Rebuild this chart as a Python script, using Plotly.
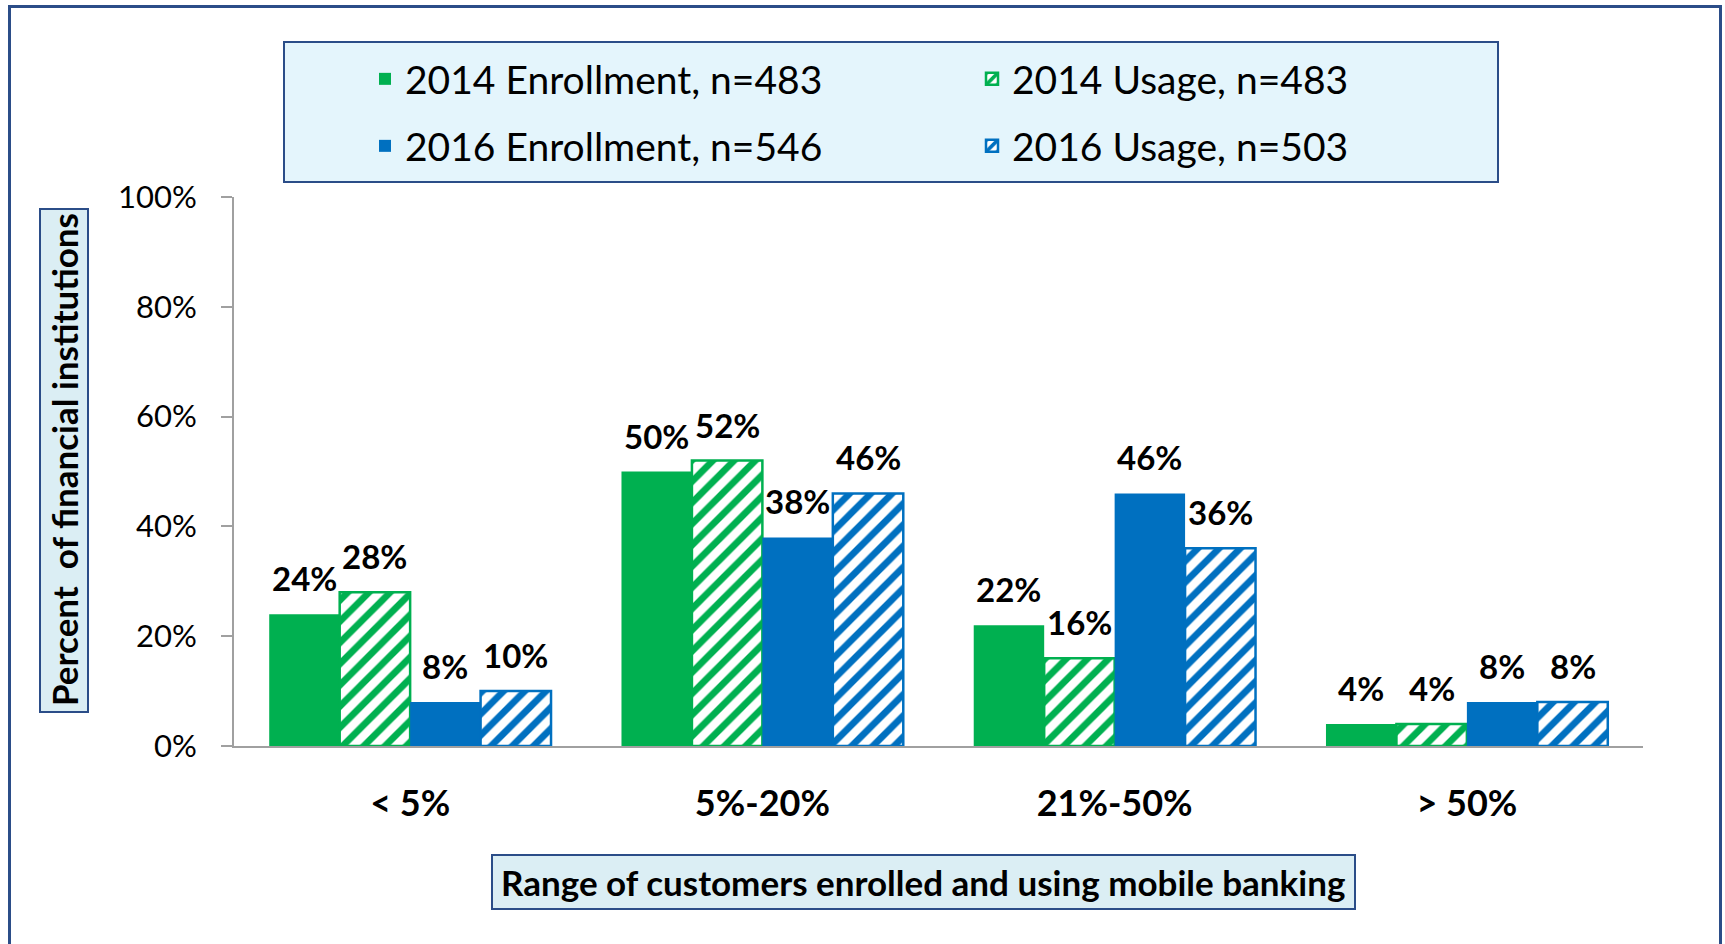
import plotly.graph_objects as go

# ---- data -------------------------------------------------------------
categories = ["< 5%", "5%-20%", "21%-50%", "> 50%"]
enroll_2014 = [24, 50, 22, 4]
usage_2014 = [28, 52, 16, 4]
enroll_2016 = [8, 38, 46, 8]
usage_2016 = [10, 46, 36, 8]
series_names = [
    "2014 Enrollment, n=483",
    "2014 Usage, n=483",
    "2016 Enrollment, n=546",
    "2016 Usage, n=503",
]
y_ticks = [0, 20, 40, 60, 80, 100]
y_tick_labels = [f"{v}%" for v in y_ticks]

# ---- styling ----------------------------------------------------------
GREEN = "#00B050"
BLUE = "#0070C0"
NAVY = "#2B4D88"
AXIS_GREY = "#A0A0A0"
FONT = "Lato"

W, H = 1725, 944
M = dict(l=234, r=82, t=197, b=198)
PW = W - M["l"] - M["r"]
PH = H - M["t"] - M["b"]
BARGAP = 0.2


def px(x):
    """pixel column -> paper x"""
    return (x - M["l"]) / PW


def py(y):
    """pixel row -> paper y"""
    return (H - M["b"] - y) / PH


series = [
    (series_names[0], enroll_2014, GREEN, False, "legend"),
    (series_names[1], usage_2014, GREEN, True, "legend"),
    (series_names[2], enroll_2016, BLUE, False, "legend2"),
    (series_names[3], usage_2016, BLUE, True, "legend2"),
]

fig = go.Figure()
for name, vals, color, hatched, leg in series:
    marker = dict(color=color, line=dict(color=color, width=0))
    if hatched:
        marker = dict(
            color="white",
            line=dict(color=color, width=2.5),
            pattern=dict(shape="/", fgcolor=color, bgcolor="white",
                         fgopacity=1, size=15, solidity=0.45),
        )
    fig.add_trace(go.Bar(x=categories, y=vals, name=name, marker=marker,
                         legend=leg))

# value labels above each bar
bar_w = PW / len(categories) * (1 - BARGAP) / len(series)
annotations = []
for i, (name, vals, color, hatched, leg) in enumerate(series):
    for cat, v in zip(categories, vals):
        annotations.append(dict(
            x=cat, y=v, xref="x", yref="y", text=f"{v}%",
            xshift=(i - (len(series) - 1) / 2) * bar_w, yshift=14,
            xanchor="center", yanchor="bottom", showarrow=False,
            font=dict(family=FONT, size=33, color="black", weight="bold"),
        ))

# axis titles in boxed labels
annotations.append(dict(
    x=px(64), y=py(460), xref="paper", yref="paper",
    xanchor="center", yanchor="middle",
    text="Percent  of financial institutions", textangle=-90,
    showarrow=False, font=dict(family=FONT, size=35, color="black", weight="bold"),
))
annotations.append(dict(
    x=px(923), y=py(882), xref="paper", yref="paper",
    xanchor="center", yanchor="middle",
    text="Range of customers enrolled and using mobile banking",
    showarrow=False, font=dict(family=FONT, size=35, color="black", weight="bold"),
))

shapes = [
    # outer frame
    dict(type="rect", xref="paper", yref="paper",
         x0=px(9.5), x1=px(1720.5), y0=py(990), y1=py(6.5),
         line=dict(color=NAVY, width=3), fillcolor="rgba(0,0,0,0)", layer="below"),
    # legend panel
    dict(type="rect", xref="paper", yref="paper",
         x0=px(284), x1=px(1498), y0=py(182), y1=py(42),
         line=dict(color=NAVY, width=2), fillcolor="#E4F5FC", layer="below"),
    # y title panel
    dict(type="rect", xref="paper", yref="paper",
         x0=px(40), x1=px(88), y0=py(712), y1=py(209),
         line=dict(color=NAVY, width=2), fillcolor="#DBEEF4", layer="below"),
    # x title panel
    dict(type="rect", xref="paper", yref="paper",
         x0=px(492), x1=px(1355), y0=py(909), y1=py(855),
         line=dict(color=NAVY, width=2), fillcolor="#DBEEF4", layer="below"),
]

legend_common = dict(
    orientation="h", xanchor="left", yanchor="middle",
    bgcolor="rgba(0,0,0,0)", borderwidth=0,
    font=dict(family=FONT, size=39, color="black"),
    entrywidth=562, entrywidthmode="pixels", traceorder="normal",
)

fig.update_layout(
    width=W, height=H, margin=M,
    paper_bgcolor="white", plot_bgcolor="white",
    barmode="group", bargap=BARGAP, bargroupgap=0,
    font=dict(family=FONT, color="black"),
    legend=dict(legend_common, x=px(365), y=py(79)),
    legend2=dict(legend_common, x=px(365), y=py(146)),
    annotations=annotations, shapes=shapes,
    xaxis=dict(
        showline=True, linecolor=AXIS_GREY, linewidth=2, ticks="",
        showgrid=False, zeroline=False, ticklabelstandoff=25,
        tickfont=dict(family=FONT, size=36, color="black", weight="bold"),
    ),
    yaxis=dict(
        range=[0, 100], tickmode="array", tickvals=y_ticks, ticktext=y_tick_labels,
        showgrid=False, zeroline=False, showline=True,
        linecolor=AXIS_GREY, linewidth=2,
        ticks="outside", ticklen=11, tickwidth=2, tickcolor=AXIS_GREY,
        ticklabelstandoff=18,
        tickfont=dict(family=FONT, size=31, color="black"),
    ),
    showlegend=True,
)

fig.write_html("out.html")
